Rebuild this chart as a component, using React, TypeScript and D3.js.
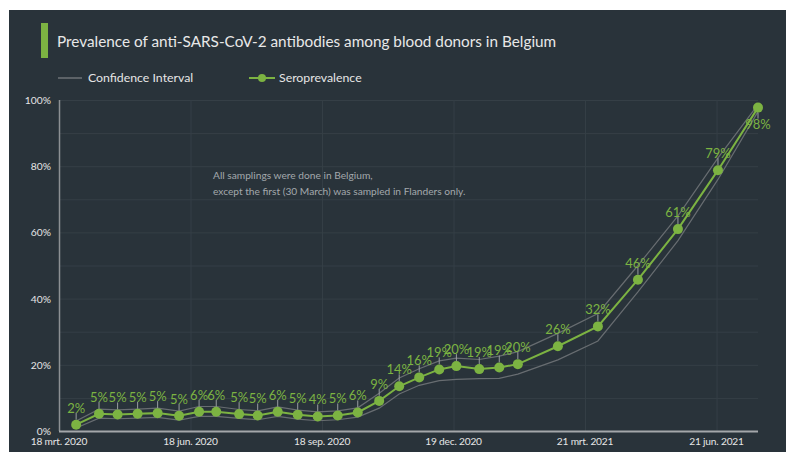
import * as d3 from 'd3'
import React, { useEffect, useRef } from 'react'

// sampling dates (roughly every two weeks)
const sampleDates = [
  '2020-03-30', '2020-04-15', '2020-04-28', '2020-05-12', '2020-05-26',
  '2020-06-10', '2020-06-24', '2020-07-06', '2020-07-22', '2020-08-04',
  '2020-08-18', '2020-09-01', '2020-09-15', '2020-09-29', '2020-10-13',
  '2020-10-28', '2020-11-11', '2020-11-25', '2020-12-09', '2020-12-21',
  '2021-01-06', '2021-01-20', '2021-02-02', '2021-03-02', '2021-03-30',
  '2021-04-27', '2021-05-25', '2021-06-22', '2021-07-20'
]

const seroprevalence = [
  1.9, 5.2, 5.0, 5.2, 5.4, 4.6, 5.8, 5.8, 5.1, 4.7, 5.8, 4.9, 4.4, 4.7, 5.6,
  9.1, 13.5, 16.2, 18.6, 19.6, 18.7, 19.2, 20.2, 25.6, 31.6, 45.7, 61.0, 78.8, 97.7
]

const ciUpper = [
  3.0, 6.6, 6.4, 6.6, 6.9, 6.0, 7.4, 7.4, 6.5, 6.1, 7.3, 6.3, 5.8, 6.1, 7.0,
  11.4, 16.0, 18.8, 21.2, 22.0, 21.6, 22.6, 24.0, 29.5, 35.5, 50.0, 65.0, 82.5, 98.6
]

const ciLower = [
  0.9, 3.9, 3.7, 3.9, 4.1, 3.3, 4.4, 4.4, 3.8, 3.4, 4.4, 3.6, 3.1, 3.4, 4.2,
  6.9, 11.2, 13.8, 15.2, 15.6, 15.8, 15.9, 17.2, 21.5, 27.2, 42.0, 57.5, 76.0, 96.5
]

const xTickDates = ['2020-03-18', '2020-06-18', '2020-09-18', '2020-12-19', '2021-03-21', '2021-06-21']
const xTickLabels = ['18 mrt. 2020', '18 jun. 2020', '18 sep. 2020', '19 dec. 2020', '21 mrt. 2021', '21 jun. 2021']
const yTicks = [0, 20, 40, 60, 80, 100]

const GREEN = '#7cb342'
const FONT = 'Lato, "Open Sans", sans-serif'

export default function App() {
  const sandbox = useRef(null)

  useEffect(() => {
    const svg = d3.select(sandbox.current)
    svg.selectAll('*').remove()
    renderChart(svg)
  }, [sandbox])

  return (
    <div style={{ position: 'absolute', left: 0, top: 0 }}>
      <svg ref={sandbox} width="786" height="452" style={{ display: 'block' }} />
    </div>
  )
}

const renderChart = svg => {
  const parse = d3.timeParse('%Y-%m-%d')
  const data = sampleDates.map((d, i) => ({
    date: parse(d),
    value: seroprevalence[i],
    lo: ciLower[i],
    hi: ciUpper[i]
  }))

  const x = d3
    .scaleTime()
    .domain([parse('2020-03-18'), parse('2021-07-20')])
    .range([59, 758])
  const y = d3.scaleLinear().domain([0, 100]).range([431, 100])

  svg.append('rect').attr('width', 786).attr('height', 452).attr('fill', '#ffffff')
  svg
    .append('rect')
    .attr('x', 9)
    .attr('y', 10)
    .attr('width', 777)
    .attr('height', 442)
    .attr('fill', '#29333a')

  // title
  svg.append('rect').attr('x', 41).attr('y', 23).attr('width', 7).attr('height', 35).attr('fill', GREEN)
  svg
    .append('text')
    .attr('x', 57)
    .attr('y', 47)
    .attr('fill', '#e8e8e8')
    .style('font-family', FONT)
    .style('font-size', '15.3px')
    .text('Prevalence of anti-SARS-CoV-2 antibodies among blood donors in Belgium')

  // legend
  const legend = svg.append('g').style('font-family', FONT).style('font-size', '12.3px')
  legend.append('line').attr('x1', 58).attr('x2', 82).attr('y1', 78).attr('y2', 78)
    .attr('stroke', '#6e7377').attr('stroke-width', 1.5)
  legend.append('text').attr('x', 88).attr('y', 82).attr('fill', '#e6e6e6').text('Confidence Interval')
  legend.append('line').attr('x1', 249).attr('x2', 275).attr('y1', 78).attr('y2', 78)
    .attr('stroke', GREEN).attr('stroke-width', 2)
  legend.append('circle').attr('cx', 262).attr('cy', 78).attr('r', 4).attr('fill', GREEN)
  legend.append('text').attr('x', 279).attr('y', 82).attr('fill', '#e6e6e6').text('Seroprevalence')

  // grid
  const grid = svg.append('g').attr('stroke', '#353f46').attr('stroke-width', 1)
  grid
    .selectAll('line.h')
    .data(d3.range(10, 101, 10))
    .enter()
    .append('line')
    .attr('x1', 59)
    .attr('x2', 758)
    .attr('y1', d => y(d) + 0.5)
    .attr('y2', d => y(d) + 0.5)
  grid
    .selectAll('line.v')
    .data(xTickDates.slice(1))
    .enter()
    .append('line')
    .attr('x1', d => x(parse(d)) + 0.5)
    .attr('x2', d => x(parse(d)) + 0.5)
    .attr('y1', 100)
    .attr('y2', 431)

  // axes
  svg.append('line').attr('x1', 59.5).attr('x2', 59.5).attr('y1', 100).attr('y2', 431)
    .attr('stroke', '#8c9093').attr('stroke-width', 1.5)
  svg.append('line').attr('x1', 59).attr('x2', 758).attr('y1', 431.5).attr('y2', 431.5)
    .attr('stroke', '#a4a7aa').attr('stroke-width', 2)

  svg
    .append('g')
    .selectAll('text')
    .data(yTicks)
    .enter()
    .append('text')
    .attr('x', 51)
    .attr('y', d => y(d) + 4)
    .attr('text-anchor', 'end')
    .attr('fill', '#e6e6e6')
    .style('font-family', FONT)
    .style('font-size', '10.3px')
    .text(d => d + '%')

  svg
    .append('g')
    .selectAll('text')
    .data(xTickDates)
    .enter()
    .append('text')
    .attr('x', d => x(parse(d)))
    .attr('y', 445)
    .attr('text-anchor', 'middle')
    .attr('fill', '#e6e6e6')
    .style('font-family', FONT)
    .style('font-size', '10.2px')
    .style('letter-spacing', '-0.2px')
    .text((d, i) => xTickLabels[i])

  // annotation
  const note = svg
    .append('text')
    .attr('fill', '#a3a8ac')
    .style('font-family', FONT)
    .style('font-size', '10.2px')
  note.append('tspan').attr('x', 213).attr('y', 179).text('All  samplings were done in Belgium,')
  note.append('tspan').attr('x', 213).attr('y', 195).text('except the first (30 March) was sampled in Flanders only.')

  // confidence interval
  const ciLine = key =>
    d3
      .line()
      .x(d => x(d.date))
      .y(d => y(d[key]))
  ;['hi', 'lo'].forEach(key => {
    svg
      .append('path')
      .datum(data)
      .attr('d', ciLine(key))
      .attr('fill', 'none')
      .attr('stroke', '#686d71')
      .attr('stroke-width', 1.2)
  })

  // leader lines
  const last = data.length - 1
  svg
    .append('g')
    .selectAll('line')
    .data(data)
    .enter()
    .append('line')
    .attr('x1', d => x(d.date))
    .attr('x2', d => x(d.date))
    .attr('y1', (d, i) => (i === last ? y(d.value) + 5 : y(d.value) - 5))
    .attr('y2', (d, i) => (i === last ? y(d.value) + 11 : y(d.value) - 12))
    .attr('stroke', '#9a9ea1')
    .attr('stroke-width', 1)

  // main line
  svg
    .append('path')
    .datum(data)
    .attr('d', d3.line().x(d => x(d.date)).y(d => y(d.value)))
    .attr('fill', 'none')
    .attr('stroke', GREEN)
    .attr('stroke-width', 2)

  svg
    .append('g')
    .selectAll('circle')
    .data(data)
    .enter()
    .append('circle')
    .attr('cx', d => x(d.date))
    .attr('cy', d => y(d.value))
    .attr('r', 5)
    .attr('fill', GREEN)

  // value labels
  svg
    .append('g')
    .selectAll('text')
    .data(data)
    .enter()
    .append('text')
    .attr('x', d => x(d.date))
    .attr('y', (d, i) => (i === last ? y(d.value) + 21 : y(d.value) - 12))
    .attr('text-anchor', 'middle')
    .attr('fill', GREEN)
    .style('font-family', FONT)
    .style('font-size', '13px')
    .text(d => Math.round(d.value) + '%')
}
